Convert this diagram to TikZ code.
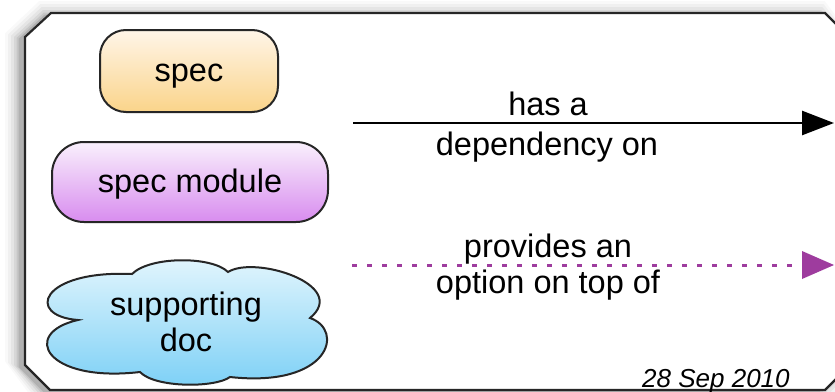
\documentclass[tikz,border=0pt]{standalone}
\usepackage{fontspec}
\setmainfont{Liberation Sans}
\usetikzlibrary{arrows.meta}
\definecolor{specTop}{HTML}{FFF5E8}
\definecolor{specBot}{HTML}{FAD48A}
\definecolor{modTop}{HTML}{F9F0FC}
\definecolor{modBot}{HTML}{D88CEF}
\definecolor{docTop}{HTML}{E4F6FD}
\definecolor{docBot}{HTML}{7CD0F6}
\definecolor{optPurple}{HTML}{9E3C9E}
\newcommand{\myframe}[1]{%
  (25-#1,37-0.41*#1) -- (51-0.41*#1,13-#1) -- (825+0.41*#1,13-#1) -- (850+#1,38+0.41*#1)
  -- (850+#1,365+0.41*#1) -- (825+0.41*#1,390+#1) -- (50-0.41*#1,390+#1) -- (25-#1,365-0.41*#1) -- cycle}
\begin{document}
\begin{tikzpicture}[x=1pt,y=-1pt,
  every node/.style={font=\fontsize{32.5}{38}\selectfont, text=black},
  boxstyle/.style={draw=black!85, line width=2pt, rounded corners=26pt,
    text height=24pt, text depth=4pt, inner sep=0pt},
  cloudstyle/.style={draw=black!85, line width=2pt, top color=docTop, bottom color=docBot},
  lbl/.style={anchor=base, inner sep=0pt},
  deparrow/.style={draw=black, line width=2.6pt, -{Triangle[length=32pt,width=24pt]}},
  optarrow/.style={draw=optPurple, line width=3pt, dash pattern=on 5pt off 10pt,
    -{Triangle[length=32pt,width=28pt,fill=optPurple,line width=0pt]}}]
\useasboundingbox (0,0) rectangle (835,391);
\begin{scope}
\clip (0,0) rectangle (835,391);
\fill[white] (0,0) rectangle (835,391);
% shadow
\foreach \d/\o in {14/0.025,11/0.035,8/0.045,5/0.06,2.5/0.08,0.5/0.1}{
  \fill[black, opacity=\o, xshift=-6pt, yshift=-2pt] \myframe{\d};
}
% frame
\fill[white] \myframe{0};
\draw[black!85, line width=2.2pt, line join=miter] \myframe{0};
% nodes
\node[boxstyle, top color=specTop, bottom color=specBot,
  minimum width=178pt, minimum height=82pt] (spec) at (189,71) {spec};
\node[boxstyle, rounded corners=32pt, top color=modTop, bottom color=modBot,
  minimum width=276pt, minimum height=80pt] (mod) at (190,182) {spec module};
% cloud
\path[cloudstyle] (78,320)
  .. controls (25,316) and (40,270) .. (132,274)
  .. controls (150,256) and (212,256) .. (228,272)
  .. controls (255,255) and (350,285) .. (310,318)
  .. controls (345,330) and (330,388) .. (230,377)
  .. controls (215,388) and (155,388) .. (140,372)
  .. controls (45,383) and (20,333) .. cycle;
\node[inner sep=0pt, align=center] (doc) at (186,322) {supporting\\[-2pt]doc};
% connectors
\coordinate (depS) at (353,123);
\coordinate (depE) at (834,123);
\coordinate (optS) at (352,265);
\coordinate (optE) at (834,265);
\draw[deparrow] (depS) -- (depE);
\draw[optarrow] (optS) -- (optE);
\node[lbl] (l1) at (548,115) {has a};
\node[lbl] (l2) at (547,155) {dependency on};
\node[lbl] (l3) at (548,257) {provides an};
\node[lbl] (l4) at (548,293) {option on top of};
\node[anchor=base west, inner sep=0pt, font=\fontsize{26}{30}\selectfont\itshape] (date) at (642,387) {28 Sep 2010};
\end{scope}
\end{tikzpicture}
\end{document}
